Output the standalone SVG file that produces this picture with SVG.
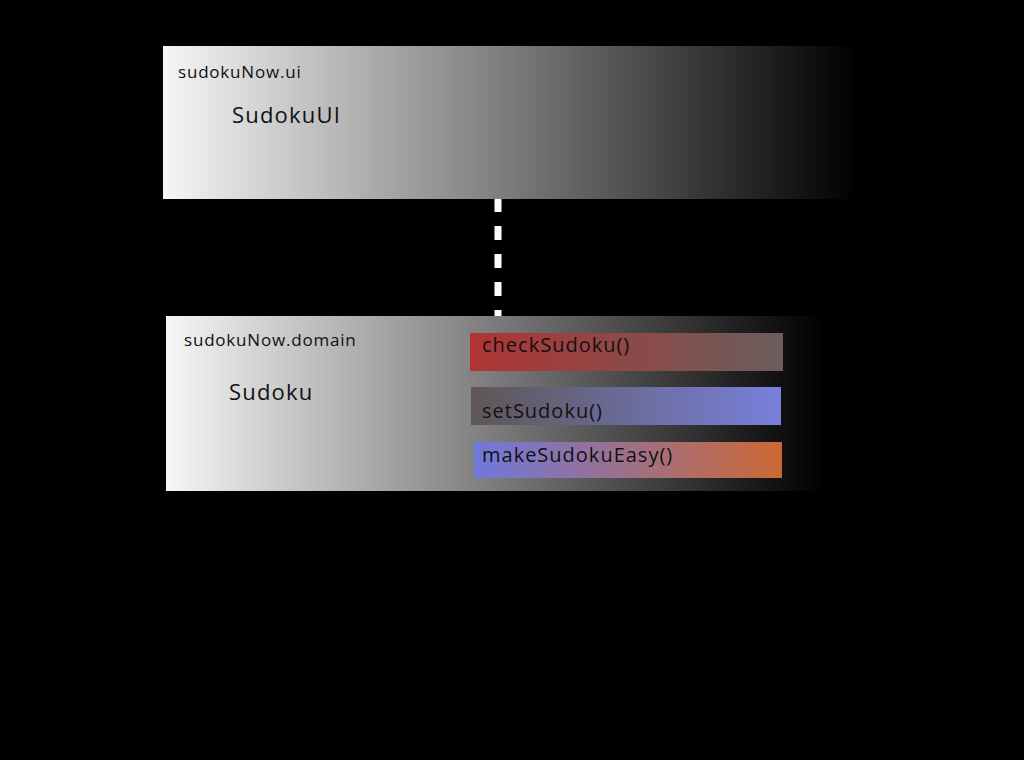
<svg xmlns="http://www.w3.org/2000/svg" width="1024" height="760" viewBox="0 0 1024 760">
<defs>
<linearGradient id="gPkg" x1="0" y1="0" x2="1" y2="0">
<stop offset="0" stop-color="#f6f6f6"/>
<stop offset="0.97" stop-color="#000"/>
<stop offset="1" stop-color="#000"/>
</linearGradient>
<linearGradient id="gCheck" x1="0" y1="0" x2="1" y2="0">
<stop offset="0" stop-color="#b03434"/>
<stop offset="1" stop-color="#6a5e5c"/>
</linearGradient>
<linearGradient id="gSet" x1="0" y1="0" x2="1" y2="0">
<stop offset="0" stop-color="#5e5656"/>
<stop offset="1" stop-color="#7880dc"/>
</linearGradient>
<linearGradient id="gEasy" x1="0" y1="0" x2="1" y2="0">
<stop offset="0" stop-color="#7078dc"/>
<stop offset="1" stop-color="#cc6834"/>
</linearGradient>
</defs>
<style>
text{font-family:"Open Sans","Noto Sans",sans-serif;fill:#111}
.pkg{font-size:17px;letter-spacing:0.8px}
.cls{font-size:22px;letter-spacing:1.2px}
.m{font-size:20px;letter-spacing:1px}
</style>
<rect width="1024" height="760" fill="#000"/>
<g id="connectors">
<line x1="498" y1="198" x2="498" y2="316" stroke="#fff" stroke-width="7" stroke-dasharray="14 14"/>
</g>
<g id="ui">
<rect x="163" y="46" width="714" height="153" fill="url(#gPkg)"/>
<text class="pkg" x="178" y="78">sudokuNow.ui</text>
<text class="cls" x="232" y="123">SudokuUI</text>
</g>
<g id="domain">
<rect x="166" y="316" width="678" height="175" fill="url(#gPkg)"/>
<text class="pkg" x="184" y="346">sudokuNow.domain</text>
<text class="cls" x="229" y="400">Sudoku</text>
</g>
<g id="checkSudoku">
<rect x="470" y="333" width="313" height="38" fill="url(#gCheck)"/>
<text class="m" x="482" y="352">checkSudoku()</text>
</g>
<g id="setSudoku">
<rect x="471" y="387" width="310" height="38" fill="url(#gSet)"/>
<text class="m" x="482" y="418">setSudoku()</text>
</g>
<g id="makeSudokuEasy">
<rect x="474" y="442" width="308" height="36" fill="url(#gEasy)"/>
<text class="m" x="482" y="462">makeSudokuEasy()</text>
</g>
</svg>
